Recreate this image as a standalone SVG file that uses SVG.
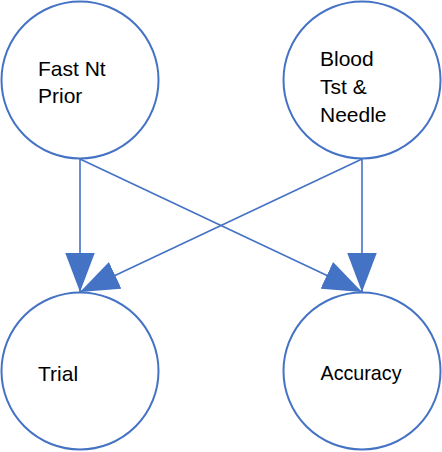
<svg xmlns="http://www.w3.org/2000/svg" width="442" height="452" viewBox="0 0 442 452">
<style>
.node{fill:#fff;stroke:#4472C4;stroke-width:2}
.lbl{font-family:"Liberation Sans",Arial,sans-serif;font-size:21px;fill:#000}
.edge{stroke:#4472C4;stroke-width:1.6;fill:none;marker-end:url(#ah)}
</style>
<defs>
<marker id="ah" markerUnits="userSpaceOnUse" markerWidth="40" markerHeight="30" viewBox="0 0 38 28" refX="37" refY="14" orient="auto">
<path d="M0,0 L37,14 L0,28 Z" fill="#4472C4"/>
</marker>
</defs>
<rect width="442" height="452" fill="#fff"/>
<g id="connectors">
<line class="edge" x1="80" y1="159" x2="80" y2="292"/>
<line class="edge" x1="362" y1="159" x2="362" y2="292"/>
<line class="edge" x1="80" y1="159" x2="362" y2="292"/>
<line class="edge" x1="362" y1="159" x2="80" y2="292"/>
</g>
<g id="fast">
<circle class="node" cx="80" cy="80" r="78.5"/>
<text class="lbl" x="38" y="76">Fast Nt</text>
<text class="lbl" x="38" y="103">Prior</text>
</g>
<g id="blood">
<circle class="node" cx="362" cy="80" r="78.5"/>
<text class="lbl" x="320" y="66">Blood</text>
<text class="lbl" x="320" y="93.5">Tst &amp;</text>
<text class="lbl" x="320" y="121.5">Needle</text>
</g>
<g id="trial">
<circle class="node" cx="80" cy="371" r="78.5"/>
<text class="lbl" x="38" y="381">Trial</text>
</g>
<g id="accuracy">
<circle class="node" cx="362" cy="371" r="78.5"/>
<text class="lbl" x="320.5" y="380" textLength="81" lengthAdjust="spacingAndGlyphs">Accuracy</text>
</g>
</svg>
